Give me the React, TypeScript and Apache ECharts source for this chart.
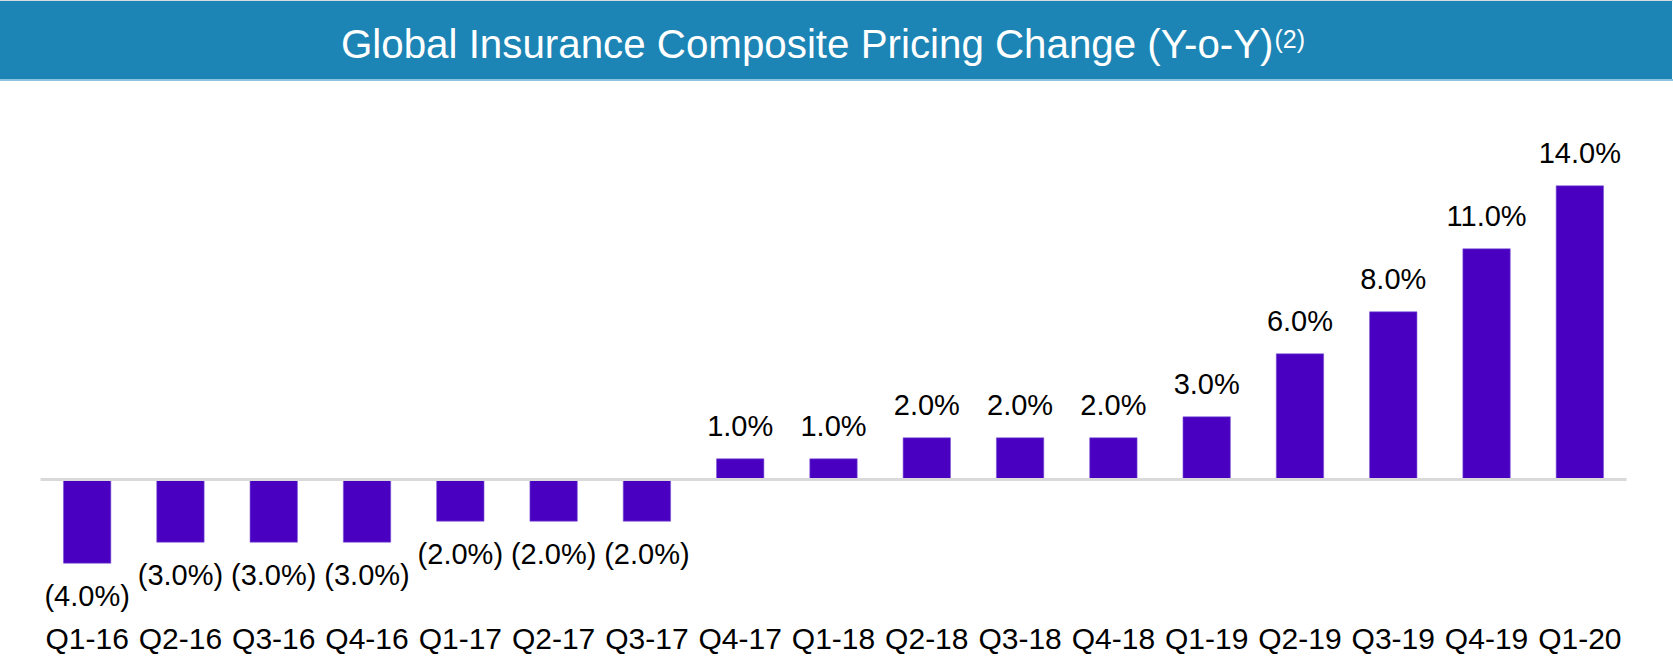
import React, { useEffect, useRef } from "react";
import * as echarts from "echarts";

const categories = [
  "Q1-16", "Q2-16", "Q3-16", "Q4-16", "Q1-17", "Q2-17", "Q3-17", "Q4-17", "Q1-18",
  "Q2-18", "Q3-18", "Q4-18", "Q1-19", "Q2-19", "Q3-19", "Q4-19", "Q1-20",
];
const pricingChange = [-4, -3, -3, -3, -2, -2, -2, 1, 1, 2, 2, 2, 3, 6, 8, 11, 14];
const titleText = "Global Insurance Composite Pricing Change (Y-o-Y)";
const titleNote = "(2)";

const FONT = "'Liberation Sans', Arial, Helvetica, sans-serif";
const BAR = "#4A00C1";

export default function App() {
  const ref = useRef<HTMLDivElement>(null);
  useEffect(() => {
    document.body.style.margin = "0";
    const chart = echarts.init(ref.current!, null, { renderer: "svg" });
    const fmt = (v: number) => (v < 0 ? `(${Math.abs(v).toFixed(1)}%)` : `${v.toFixed(1)}%`);
    chart.setOption({
      animation: false,
      backgroundColor: "#fff",
      graphic: [
        { type: "rect", left: 0, top: 0, shape: { width: 1673, height: 1 }, style: { fill: "#D6DCE0" } },
        { type: "rect", left: 0, top: 1, shape: { width: 1672, height: 78 }, style: { fill: "#1C85B5" } },
        { type: "rect", left: 0, top: 79, shape: { width: 1673, height: 2 }, style: { fill: "#8CC3DD" } },
      ],
      title: {
        text: `{a|${titleText}}{s|${titleNote}}`,
        left: 336,
        top: 15,
        textStyle: {
          fontWeight: "normal",
          rich: {
            a: { fontFamily: FONT, fontSize: 40.3, fontWeight: "normal", color: "#fff", lineHeight: 48 },
            s: { fontFamily: FONT, fontSize: 25, fontWeight: "normal", color: "#fff", lineHeight: 48, verticalAlign: "top", padding: [6, 0, 0, 1] },
          },
        },
      },
      grid: { left: 40.5, right: 46.5, top: 143.5, bottom: 52.5, containLabel: false },
      xAxis: {
        type: "category",
        data: categories,
        axisLine: { show: false, onZero: false },
        axisTick: { show: false },
        axisLabel: { fontFamily: FONT, fontSize: 30, color: "#000", margin: 18, interval: 0 },
      },
      yAxis: {
        type: "value",
        min: -6,
        max: 16,
        show: false,
        splitLine: { show: false },
      },
      series: [
        {
          type: "bar",
          data: pricingChange.map((v) =>
            v < 0 ? { value: v, label: { position: "bottom" } } : { value: v }
          ),
          barWidth: 48,
          itemStyle: { color: BAR, borderColor: "#7E5AD8", borderWidth: 0.6 },
          label: {
            show: true,
            fontFamily: FONT,
            fontSize: 29,
            color: "#000",
            distance: 18,
            position: "top",
            formatter: (p: any) => fmt(p.value),
          },
          markLine: {
            silent: true,
            symbol: "none",
            label: { show: false },
            lineStyle: { color: "#D9D9D9", width: 3, type: "solid" },
            data: [{ yAxis: 0 }],
          },
        },
      ],
    });
    return () => chart.dispose();
  }, []);
  return <div ref={ref} style={{ width: 1673, height: 658 }} />;
}
